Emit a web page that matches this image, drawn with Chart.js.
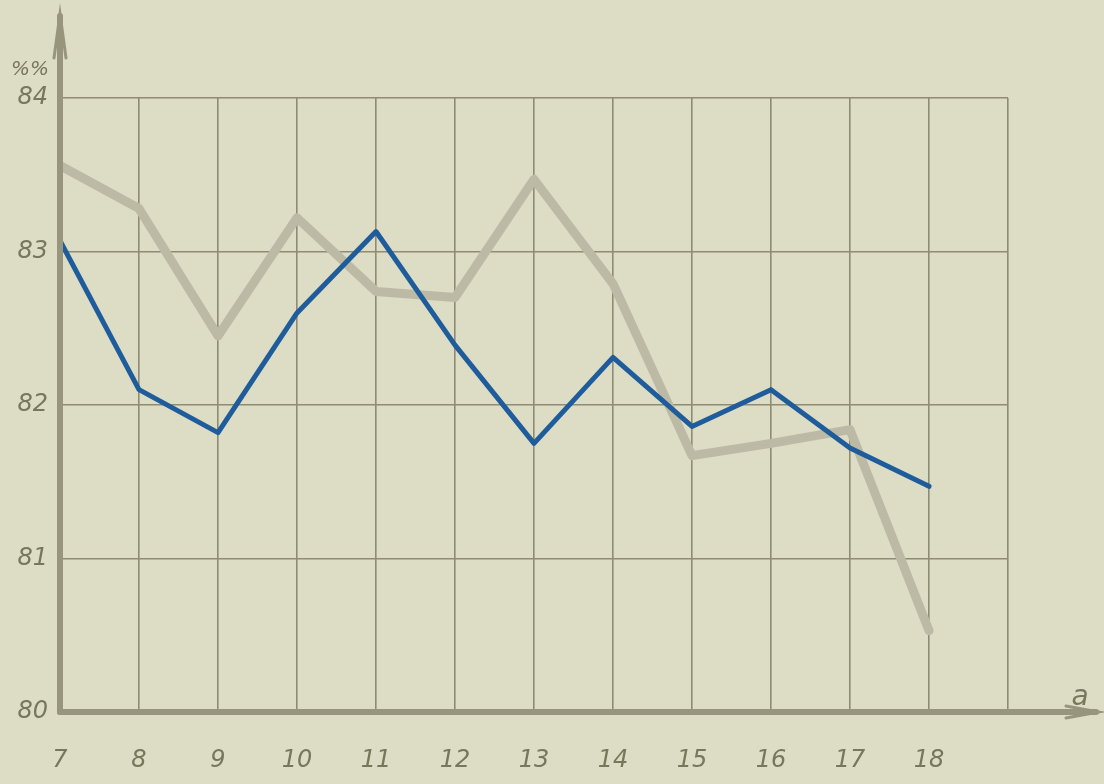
<!DOCTYPE html>
<html>
<head>
<meta charset="utf-8">
<script src="https://cdn.jsdelivr.net/npm/chart.js@4/dist/chart.umd.min.js"></script>
<style>
  html, body { margin: 0; padding: 0; background: #dddcc4; }
  #wrap { width: 1104px; height: 784px; position: relative; }
</style>
</head>
<body>
<div id="wrap"><canvas id="chart" width="1104" height="784"></canvas></div>
<script>
// ===== data =====
const xValues = [7, 8, 9, 10, 11, 12, 13, 14, 15, 16, 17, 18];
const greySeries = [83.56, 83.28, 82.45, 83.22, 82.74, 82.70, 83.47, 82.79, 81.67, 81.75, 81.84, 80.53];
const blueSeries = [83.07, 82.10, 81.82, 82.60, 83.13, 82.39, 81.75, 82.31, 81.86, 82.10, 81.72, 81.47];
const yTicks = [80, 81, 82, 83, 84];
const xTickLabels = ['7', '8', '9', '10', '11', '12', '13', '14', '15', '16', '17', '18'];

const INK = '#8e8c72';
const AXIS = '#97957c';
const TEXT = '#77775c';
const HAND = "italic 24px 'DejaVu Sans', sans-serif";

// axis arrows + axis names, drawn past the grid like on the paper
const axisArrows = {
  id: 'axisArrows',
  afterDraw(chart) {
    const { ctx, chartArea: a } = chart;
    ctx.save();
    ctx.strokeStyle = AXIS;
    ctx.lineWidth = 6;
    ctx.lineCap = 'round';
    // y axis
    ctx.beginPath();
    ctx.moveTo(a.left, a.bottom);
    ctx.lineTo(a.left, 16);
    ctx.stroke();
    ctx.lineWidth = 3;
    ctx.beginPath();
    ctx.moveTo(a.left - 6, 58);
    ctx.lineTo(a.left, 14);
    ctx.lineTo(a.left + 6, 58);
    ctx.stroke();
    // x axis
    ctx.lineWidth = 6;
    ctx.beginPath();
    ctx.moveTo(a.left, a.bottom);
    ctx.lineTo(1096, a.bottom);
    ctx.stroke();
    ctx.lineWidth = 3;
    ctx.beginPath();
    ctx.moveTo(1066, a.bottom - 6);
    ctx.lineTo(1098, a.bottom);
    ctx.lineTo(1066, a.bottom + 6);
    ctx.stroke();
    // axis names
    ctx.fillStyle = TEXT;
    ctx.font = "italic 28px 'DejaVu Sans', sans-serif";
    ctx.textAlign = 'center';
    ctx.textBaseline = 'middle';
    ctx.fillText('a', 1080, 698);
    ctx.font = "italic 20px 'DejaVu Sans', sans-serif";
    ctx.fillText('%%', 30, 70);
    ctx.restore();
  }
};

new Chart(document.getElementById('chart'), {
  type: 'line',
  data: {
    datasets: [
      {
        label: 'blue',
        data: xValues.map((x, i) => ({ x, y: blueSeries[i] })),
        borderColor: '#1f5c9c',
        borderWidth: 5,
        pointRadius: 0,
        tension: 0,
        borderJoinStyle: 'round',
        borderCapStyle: 'round',
      },
      {
        label: 'grey',
        data: xValues.map((x, i) => ({ x, y: greySeries[i] })),
        borderColor: '#bcbaa5',
        borderWidth: 9,
        pointRadius: 0,
        tension: 0,
        borderJoinStyle: 'round',
        borderCapStyle: 'round',
      },
    ]
  },
  options: {
    responsive: false,
    animation: false,
    layout: { padding: { left: 0, right: 96, top: 98, bottom: 0 } },
    plugins: {
      legend: { display: false },
      tooltip: { enabled: false },
    },
    scales: {
      x: {
        type: 'linear',
        min: 7, max: 19,
        afterFit: s => { s.height = 72; },
        afterBuildTicks: s => { s.ticks = [7,8,9,10,11,12,13,14,15,16,17,18,19].map(v => ({ value: v })); },
        grid: { color: INK, lineWidth: 1.6, drawTicks: false },
        border: { display: false },
        ticks: {
          padding: 34,
          color: TEXT,
          font: { family: "'DejaVu Sans', sans-serif", style: 'italic', size: 24 },
          callback: v => xTickLabels[xValues.indexOf(v)] ?? '',
        }
      },
      y: {
        min: 80, max: 84,
        afterFit: s => { s.width = 60; },
        afterBuildTicks: s => { s.ticks = yTicks.map(v => ({ value: v })); },
        grid: { color: INK, lineWidth: 1.6, drawTicks: false },
        border: { display: false },
        ticks: {
          padding: 12,
          color: TEXT,
          font: { family: "'DejaVu Sans', sans-serif", style: 'italic', size: 24 },
        }
      }
    }
  },
  plugins: [axisArrows]
});
</script>
</body>
</html>
